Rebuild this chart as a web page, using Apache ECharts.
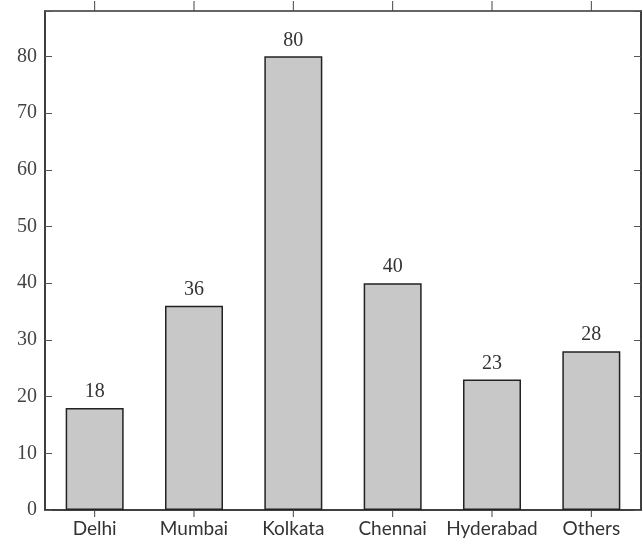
<!DOCTYPE html>
<html>
<head>
<meta charset="utf-8">
<script src="https://cdn.jsdelivr.net/npm/echarts@6/dist/echarts.min.js"></script>
<style>html,body{margin:0;padding:0;background:#fff}#c{width:643px;height:545px}</style>
</head>
<body>
<div id="c"></div>
<script>
const categories = ["Delhi", "Mumbai", "Kolkata", "Chennai", "Hyderabad", "Others"];
const values = [18, 36, 80, 40, 23, 28];
const yTicks = [0, 10, 20, 30, 40, 50, 60, 70, 80];
const yMax = 88;

const serif = "'Liberation Serif', 'DejaVu Serif', serif";
const sans = "Lato, 'Open Sans', sans-serif";
const frameColor = "#333";

const chart = echarts.init(document.getElementById('c'));
chart.setOption({
  animation: false,
  backgroundColor: '#fff',
  grid: { left: 45, right: 2, top: 11, bottom: 35, show: true, borderColor: frameColor, borderWidth: 1.5, containLabel: false },
  xAxis: [
    {
      type: 'category', data: categories, position: 'bottom', boundaryGap: true,
      axisLine: { show: true, lineStyle: { color: frameColor, width: 1.5 } },
      axisTick: { show: false },
      axisLabel: { interval: 0, fontFamily: sans, fontSize: 19, color: '#333', margin: 9 }
    }
  ],
  yAxis: [
    {
      type: 'value', min: 0, max: yMax, interval: 10, position: 'left',
      axisLine: { show: true, lineStyle: { color: frameColor, width: 1.5 } },
      axisTick: { show: true, inside: true, length: 7, lineStyle: { color: '#555' } },
      splitLine: { show: false },
      axisLabel: {
        fontFamily: serif, fontSize: 20, color: '#444', margin: 8,
        formatter: v => yTicks.includes(v) ? String(v) : ''
      }
    },
    {
      type: 'value', min: 0, max: yMax, interval: 10, position: 'right',
      axisLine: { show: true, lineStyle: { color: frameColor, width: 1.5 } },
      axisTick: { show: true, inside: true, length: 7, lineStyle: { color: '#555' } },
      splitLine: { show: false },
      axisLabel: { show: false }
    }
  ],
  series: [
    {
      type: 'bar', data: values, barWidth: 58,
      itemStyle: { color: '#c8c8c8', borderColor: '#222', borderWidth: 1.5 },
      label: { show: true, position: 'top', distance: 6, fontFamily: serif, fontSize: 20, color: '#333' }
    },
    {
      // category tick marks on the bottom and top edges of the frame
      type: 'custom', silent: true, clip: false, z: 5,
      data: categories.map((c, i) => [i, 0]),
      renderItem: (params, api) => {
        const i = api.value(0);
        const b = api.coord([i, 0]);
        const t = api.coord([i, yMax]);
        return {
          type: 'group',
          children: [
            { type: 'line', shape: { x1: b[0], y1: b[1], x2: b[0], y2: b[1] + 7 }, style: { stroke: '#444', lineWidth: 1 } },
            { type: 'line', shape: { x1: t[0], y1: t[1], x2: t[0], y2: t[1] - 10 }, style: { stroke: '#444', lineWidth: 1 } }
          ]
        };
      }
    }
  ]
});
</script>
</body>
</html>
